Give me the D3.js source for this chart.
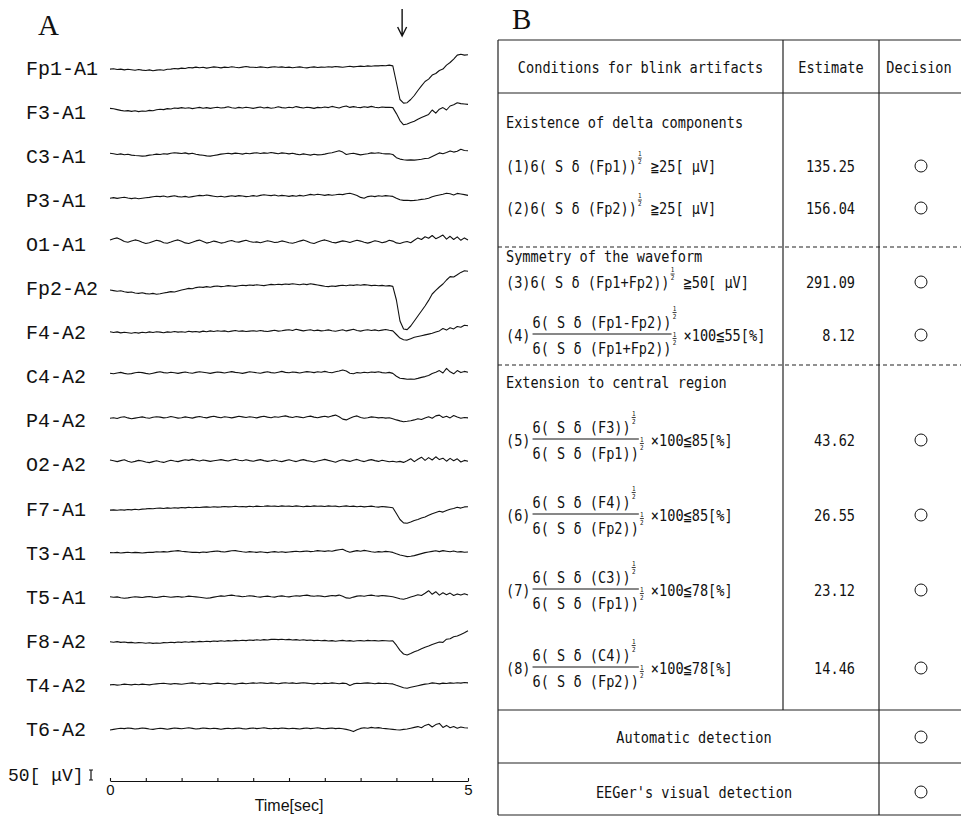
<!DOCTYPE html>
<html>
<head>
<meta charset="UTF-8">
<title>Blink artifact detection</title>
<script src="https://d3js.org/d3.v7.min.js"></script>
<style>
  body { margin: 0; background: #fff; }
  svg text { fill: #111; }
</style>
</head>
<body>
<svg id="svg" width="961" height="817"></svg>
<script>
// ---- EEG data: one sample every 0.05 s, amplitude in uV (positive drawn downward)
var channels = ["Fp1-A1", "F3-A1", "C3-A1", "P3-A1", "O1-A1", "Fp2-A2", "F4-A2", "C4-A2",
                "P4-A2", "O2-A2", "F7-A1", "T3-A1", "T5-A1", "F8-A2", "T4-A2", "T6-A2"];
var timeStep = 0.05;
var blinkTime = 4.08;
var timeTicks = [0, 0.5, 1, 1.5, 2, 2.5, 3, 3.5, 4, 4.5, 5];
var tickLabels = ["0", "", "", "", "", "", "", "", "", "", "5"];

var fp1 = [8,6,10,8,12,9,11,14,10,13, 15,12,16,13,11,14,9,8,5,7, 3,5,0,2,-2,1,-1,3,0,-3,
  -1,2,-2,0,-4,-1,1,-2,-5,-2, -1,0,-3,-1,1,-2,-4,-1,-3,0, -2,1,-1,-3,0,2,-1,-3,0,-2,
  -1,-4,-2,-5,-3,-1,-4,-6,-3,-5, -7,-5,-8,-6,-9,-8,-10,-9,-12,-8,
  75,160,178,176,160,140,115,92,70,58, 38,30,15,8,-12,-25,-42,-62,-66,-62,-64];
var f3 = [-16,-14,-10,-6,-3,-5,-1,-4,0,-3, -2,-6,-4,-9,-12,-10,-15,-13,-18,-16,
  -20,-17,-19,-15,-18,-21,-17,-20,-16,-19, -22,-18,-20,-24,-19,-17,-21,-18,-22,-19,
  -16,-20,-23,-18,-21,-17,-19,-24,-20,-18, -22,-19,-25,-21,-18,-22,-20,-16,-21,-19,
  -23,-20,-26,-22,-18,-24,-28,-21,-25,-22, -20,-24,-21,-26,-22,-19,-23,-21,-22,-20,
  10,45,66,62,55,48,38,30,22,14, -8,8,-12,-20,-8,-28,-34,-44,-40,-38,-36];
var c3 = [-12,-10,-6,-9,-5,-7,-3,-1,0,2, 1,-3,-5,-8,-6,-10,-8,-12,-15,-13,
  -11,-14,-9,-12,-7,-4,-2,1,2,-1, -4,-8,-10,-12,-9,-13,-11,-8,-12,-10,
  -13,-15,-11,-14,-12,-16,-13,-10,-14,-12, -9,-12,-8,-5,-9,-6,-3,-7,-4,-5,
  -8,-12,-15,-20,-25,-18,-6,-10,-12,-8, -4,-7,-10,-14,-12,-15,-11,-9,-10,-6,
  10,17,20,22,21,22,20,18,14,13, 4,-5,-14,-10,-16,-24,-18,-22,-32,-26,-25];
var p3 = [-8,-11,-7,-10,-13,-9,-6,-9,-5,-8, -10,-12,-15,-18,-16,-19,-14,-17,-20,-16,
  -14,-17,-13,-16,-19,-22,-20,-24,-21,-18, -15,-18,-14,-17,-20,-17,-21,-19,-16,-18,
  -21,-18,-22,-25,-23,-21,-24,-19,-22,-20, -17,-21,-18,-22,-19,-23,-27,-24,-28,-25,
  -22,-26,-23,-25,-28,-26,-30,-33,-28,-22, -12,-8,-16,-19,-16,-20,-18,-21,-19,-17,
  -8,0,3,2,4,3,1,-2,-4,-8, -15,-20,-24,-28,-33,-30,-24,-32,-29,-26,-22];
var o1 = [-20,-26,-30,-22,-12,-8,-14,-20,-16,-8, -2,-6,-12,-18,-14,-6,-3,-9,-16,-20,
  -13,-5,-2,-8,-15,-19,-12,-4,-8,-14, -10,-4,-7,-13,-17,-11,-9,-14,-18,-12,
  -8,-10,-6,-11,-16,-12,-7,-9,-15,-11, -6,-3,-8,-14,-19,-13,-6,-2,-9,-16,
  -20,-14,-8,-5,-10,-15,-12,-7,-13,-18, -14,-8,-4,-9,-16,-12,-6,-10,-18,-14,
  -5,-2,-8,-12,-6,-18,-30,-22,-36,-28, -42,-26,-34,-44,-24,-38,-22,-35,-18,-30,-20];
var fp2 = [10,13,16,14,19,22,20,25,27,24, 28,30,27,31,29,25,22,18,20,15,
  10,6,2,4,-2,-5,-3,-7,-4,-8, -10,-7,-9,-12,-10,-8,-11,-14,-12,-15,
  -13,-16,-14,-12,-15,-18,-16,-19,-17,-20, -18,-21,-19,-16,-20,-17,-21,-18,-15,-12,
  -9,-7,-10,-8,-12,-14,-11,-15,-13,-16, -14,-17,-15,-12,-14,-11,-13,-10,-12,-8,
  60,165,205,208,190,165,140,115,90,62, 30,12,-5,-20,-40,-57,-55,-66,-78,-86,-84];
var f4 = [-2,2,-1,4,1,3,6,2,5,1, 3,-1,2,-2,0,3,-1,1,-3,0, -2,1,-4,-1,-3,0,-5,-2,-6,-3,
  -7,-4,-6,-2,-5,-8,-4,-6,-3,-5, -7,-4,-8,-5,-3,-6,-9,-5,-7,-10,
  -12,-8,-14,-10,-6,-9,-12,-7,-10,-6, -8,-11,-7,-4,-8,-12,-6,-10,-14,-8,
  -5,-9,-12,-8,-11,-7,-10,-13,-9,-6, 12,30,38,40,33,26,22,18,14,10,
  6,0,-6,-18,-10,-22,-16,-28,-24,-34,-32];
var c4 = [-15,-12,-16,-19,-14,-11,-13,-17,-20,-18, -14,-11,-15,-19,-22,-18,-16,-20,-17,-14,
  -18,-21,-17,-15,-19,-22,-20,-17,-14,-18, -21,-19,-16,-20,-23,-19,-17,-14,-18,-22,
  -20,-17,-15,-19,-22,-18,-16,-20,-24,-19, -17,-21,-19,-16,-20,-23,-21,-18,-22,-20,
  -24,-20,-17,-22,-26,-31,-26,-15,-12,-18, -16,-20,-17,-21,-19,-22,-18,-16,-19,-14,
  0,10,12,15,14,15,11,6,2,-4, -14,-20,-28,-16,-39,-22,-12,-28,-18,-24,-20];
var p4 = [-10,-13,-9,-15,-18,-12,-8,-11,-14,-17, -13,-10,-15,-18,-16,-12,-14,-19,-15,-11,
  -13,-17,-14,-11,-16,-19,-15,-12,-17,-20, -16,-13,-18,-15,-12,-16,-20,-17,-14,-18,
  -15,-12,-17,-20,-16,-13,-18,-15,-19,-22, -17,-14,-19,-16,-13,-18,-21,-16,-13,-17,
  -20,-16,-22,-26,-18,-6,-2,-10,-18,-22, -14,-10,-13,-17,-15,-12,-14,-11,-13,-8,
  -2,3,7,5,2,-2,-8,-4,-12,-18, -10,-22,-26,-14,-20,-12,-24,-16,-10,-14,-12];
var o2 = [-22,-18,-14,-19,-23,-16,-11,-15,-20,-17, -12,-9,-14,-18,-13,-10,-16,-21,-17,-14,
  -19,-23,-20,-25,-21,-17,-22,-19,-15,-18, -21,-24,-20,-17,-22,-26,-21,-18,-23,-19,
  -16,-20,-24,-19,-15,-18,-22,-17,-14,-19, -23,-18,-14,-20,-24,-19,-16,-12,-17,-21,
  -25,-20,-16,-11,-18,-23,-19,-15,-21,-25, -18,-14,-20,-24,-19,-15,-21,-17,-13,-16,
  -12,-15,-10,-18,-28,-14,-26,-36,-20,-34, -22,-38,-24,-31,-16,-30,-18,-28,-12,-20,-16];
var f7 = [8,7,9,6,8,5,7,4,6,3, 2,0,1,-1,-2,0,-3,-1,-4,-2, -5,-3,-6,-4,-6,-5,-7,-8,-6,-9,
  -7,-8,-10,-8,-9,-11,-9,-10,-8,-11, -9,-12,-10,-11,-13,-11,-12,-10,-13,-11,
  -12,-10,-13,-11,-9,-12,-10,-13,-11,-12, -10,-13,-11,-12,-9,-11,-13,-10,-12,-9,
  -11,-8,-10,-12,-9,-7,-10,-8,-6,-4, 25,55,72,74,68,60,55,48,42,34,
  26,20,14,18,10,4,0,-6,-2,-8,-9];
var t3 = [0,1,-1,2,0,-2,1,-1,0,2, 0,-2,-1,-4,-3,-5,-3,-6,-8,-10, -7,-5,-3,-1,-2,0,-3,-1,-4,-6,
  -8,-5,-3,-6,-9,-10,-7,-4,-2,-5, -3,-1,-4,-2,0,-3,-5,-2,-4,-1,
  -3,-5,-7,-4,-6,-8,-5,-7,-10,-8, -6,-9,-7,-11,-14,-17,-8,-2,-6,-10,
  -7,-11,-8,-4,-2,-5,-3,-6,-4,-1, 6,12,16,20,18,15,10,5,0,-3,
  -6,-9,-5,-10,-7,-4,-8,-3,-5,-2,-3];
var t5 = [0,3,1,5,8,6,3,0,2,4, 1,-1,2,4,1,-2,0,3,1,-1, 2,0,-3,-1,1,3,5,8,6,2,
  -1,-4,-2,-6,-8,-5,-3,0,-2,-5, -3,0,2,-1,-3,0,2,-2,-4,-1,
  1,-2,-5,-3,-6,-8,-4,-2,-5,-3, 0,-3,-6,-4,-8,-2,6,8,2,-3,
  -5,-2,-6,-8,-5,-3,-6,-4,-2,0, 5,10,13,8,2,-4,-10,-6,-17,-30,
  -12,-25,-8,-20,-10,-18,-6,-14,-8,-15,-8];
var f8 = [5,7,4,8,6,9,8,11,9,10, 12,10,13,11,12,9,10,7,9,6, 8,5,7,4,6,3,5,2,4,1,
  3,0,2,-1,1,-2,0,-3,-1,-4, -2,-5,-3,-6,-4,-7,-8,-6,-8,-5,
  -7,-4,-6,-3,-5,-2,-4,-1,-3,0, -2,1,-1,2,0,-2,1,-1,2,0,
  -1,1,-2,0,-1,1,-1,0,1,0, 22,48,66,71,64,55,48,40,32,26,
  18,12,6,8,-8,-10,-20,-24,-32,-40,-50];
var t4 = [0,-2,1,-1,-4,-2,0,-3,-1,-4, -2,0,-3,-5,-7,-8,-6,-4,-7,-5,
  -3,-6,-8,-10,-7,-5,-8,-6,-4,-7, -9,-7,-5,-8,-6,-4,-7,-9,-6,-8,
  -10,-8,-11,-9,-7,-10,-8,-6,-9,-11, -8,-10,-7,-9,-11,-9,-7,-5,-8,-6,
  -9,-7,-10,-8,-6,-9,-7,3,-5,-8, -7,-9,-10,-8,-6,-9,-7,-8,-6,-5,
  2,8,14,17,12,8,4,0,-4,-6, -10,-8,-5,-9,-7,-10,-8,-11,-9,-12,-10];
var t6 = [5,2,-1,-4,-2,-5,-3,0,-2,-5, -3,0,2,-1,-4,-2,1,-2,-5,-3,
  -1,-4,-6,-3,0,-2,-5,-3,-1,-4, -2,1,-2,-4,-1,-3,-5,-2,0,-3,
  -5,-2,-4,-6,-3,-1,-4,-2,-5,-3, -1,-4,-2,0,-3,-5,-2,-4,-6,-3,
  -1,-3,-5,-2,-4,-1,2,6,13,4, -3,-6,-4,-8,-5,-7,-4,-2,0,2,
  4,5,2,0,-4,-8,-12,-6,-18,-24, -10,-22,-28,-8,-18,-6,-12,-4,-10,-6,-5];
var waves = [fp1, f3, c3, p3, o1, fp2, f4, c4, p4, o2, f7, t3, t5, f8, t4, t6];

// ---- table data
var headers = ["Conditions for blink artifacts", "Estimate", "Decision"];
var groupTitles = ["Existence of delta components", "Symmetry of the waveform", "Extension to central region"];
var condNo = ["(1)", "(2)", "(3)", "(4)", "(5)", "(6)", "(7)", "(8)"];
var condNum = ["6( S \u03b4 (Fp1))", "6( S \u03b4 (Fp2))", "6( S \u03b4 (Fp1+Fp2))", "6( S \u03b4 (Fp1-Fp2))",
               "6( S \u03b4 (F3))", "6( S \u03b4 (F4))", "6( S \u03b4 (C3))", "6( S \u03b4 (C4))"];
var condDen = [null, null, null, "6( S \u03b4 (Fp1+Fp2))",
               "6( S \u03b4 (Fp1))", "6( S \u03b4 (Fp2))", "6( S \u03b4 (Fp1))", "6( S \u03b4 (Fp2))"];
var condTail = ["\u226725[ \u03bcV]", "\u226725[ \u03bcV]", "\u226750[ \u03bcV]", "\u00d7100\u226655[%]",
                "\u00d7100\u226685[%]", "\u00d7100\u226685[%]", "\u00d7100\u226678[%]", "\u00d7100\u226678[%]"];
var estimates = ["135.25", "156.04", "291.09", "8.12", "43.62", "26.55", "23.12", "14.46"];
var decisions = [true, true, true, true, true, true, true, true];
var detections = ["Automatic detection", "EEGer's visual detection"];
var detectionResults = [true, true];

var svg = d3.select("svg");

// ================= panel A =================
var x = d3.scaleLinear().domain([0, 5]).range([110, 468]);
var yCh = d3.scalePoint().domain(channels).range([67.5, 729]);
var amp = d3.scaleLinear().domain([0, 50]).range([0, 10]);   // 50 uV -> 10 px

svg.append("text").attr("x", 38).attr("y", 35)
    .style("font-family", "'Liberation Serif', serif").style("font-size", "29px").text("A");

// blink marker
var bx = x(blinkTime);
svg.append("path")
    .attr("d", "M" + bx + ",9V36M" + (bx - 4.5) + ",27L" + bx + ",36L" + (bx + 4.5) + ",27")
    .attr("fill", "none").attr("stroke", "#111").attr("stroke-width", 1.4);

var traces = svg.append("g");
channels.forEach(function (ch, k) {
    var base = yCh(ch);
    traces.append("text").attr("x", 26).attr("y", base).attr("dy", "0.35em")
        .style("font-family", "'Liberation Mono', monospace").style("font-size", "20px")
        .text(ch);
    var line = d3.line()
        .x(function (v, i) { return x(i * timeStep); })
        .y(function (v) { return base + amp(v); });
    traces.append("path").datum(waves[k]).attr("d", line)
        .attr("fill", "none").attr("stroke", "#111").attr("stroke-width", 1.1)
        .attr("stroke-linejoin", "round");
});

// amplitude scale bar
var barY = 775;
svg.append("text").attr("x", 8).attr("y", barY).attr("dy", "0.35em")
    .style("font-family", "'Liberation Mono', monospace").style("font-size", "18px")
    .text("50[ \u03bcV]");
svg.append("path")
    .attr("d", "M91," + (barY - amp(25)) + "V" + (barY + amp(25)) +
               "M89," + (barY - amp(25)) + "H93M89," + (barY + amp(25)) + "H93")
    .attr("fill", "none").attr("stroke", "#111").attr("stroke-width", 1.2);

// time axis
var axis = svg.append("g").attr("transform", "translate(0,781)")
    .call(d3.axisBottom(x).tickValues(timeTicks).tickSize(-3).tickSizeOuter(0).tickPadding(3)
        .tickFormat(function (d, i) { return tickLabels[i]; }));
axis.selectAll("path,line").attr("stroke", "#111").attr("stroke-width", 1.1);
axis.selectAll("text").style("font-family", "'Liberation Sans', Arial, sans-serif")
    .style("font-size", "15px").attr("fill", "#111");
svg.append("text").attr("x", x(2.5)).attr("y", 811).attr("text-anchor", "middle")
    .style("font-family", "'Liberation Sans', Arial, sans-serif").style("font-size", "16px")
    .text("Time[sec]");

// ================= panel B =================
svg.append("text").attr("x", 512).attr("y", 29)
    .style("font-family", "'Liberation Serif', serif").style("font-size", "29px").text("B");

var tbl = svg.append("g");
var SX = 0.85, FS = 16;
function tt(g, tx, ty, s, size, anchor) {
    return g.append("text")
        .attr("transform", "translate(" + tx + "," + ty + ") scale(" + SX + ",1)")
        .attr("dy", "0.35em")
        .attr("text-anchor", anchor || "start")
        .style("font-family", "'DejaVu Sans Mono', monospace")
        .style("font-size", (size || FS) + "px")
        .text(s);
}
function tw(t) { return t.node().getComputedTextLength() * SX; }
function half(g, hx, hy) {
    tt(g, hx + 3, hy - 4.5, "1", 7, "middle");
    g.append("line").attr("x1", hx + 1).attr("x2", hx + 5).attr("y1", hy - 0.5).attr("y2", hy - 0.5)
        .attr("stroke", "#111").attr("stroke-width", 0.8);
    tt(g, hx + 3, hy + 3.5, "2", 7, "middle");
}

var L = 498, C1 = 783, C2 = 879, R = 961, T = 40, H = 93, B = 815;
var rowY = [166, 208, 282, 335, 440, 515, 590, 668];
var groupY = [122, 256, 382];
var detY = [737, 792];
var textX = 506, estX = 855, decX = 921;

function hline(yy, dashed) {
    tbl.append("line").attr("x1", L).attr("x2", R).attr("y1", yy).attr("y2", yy)
        .attr("stroke", "#222").attr("stroke-width", 1.2)
        .attr("stroke-dasharray", dashed ? "4,3" : null);
}
function vline(xx, y1, y2) {
    tbl.append("line").attr("x1", xx).attr("x2", xx).attr("y1", y1).attr("y2", y2)
        .attr("stroke", "#222").attr("stroke-width", 1.2);
}
hline(T); hline(H); hline(247, true); hline(365, true); hline(710); hline(763); hline(B);
vline(L, T, B); vline(C1, T, 710); vline(C2, T, B);

tt(tbl, (L + C1) / 2, 67, headers[0], FS, "middle");
tt(tbl, (C1 + C2) / 2, 67, headers[1], FS, "middle");
tt(tbl, C2 + 40, 67, headers[2], FS, "middle");

groupTitles.forEach(function (s, i) { tt(tbl, textX, groupY[i], s); });

condNo.forEach(function (no, i) {
    var yy = rowY[i];
    var t0 = tt(tbl, textX, yy, no);
    var x0 = textX + tw(t0);
    if (condDen[i] === null) {
        var t1 = tt(tbl, x0, yy, condNum[i]);
        var x1 = x0 + tw(t1);
        half(tbl, x1, yy - 7.5);
        tt(tbl, x1 + 14, yy, condTail[i]);
    } else {
        var n = tt(tbl, x0 + 2, yy - 13, condNum[i]);
        var d = tt(tbl, x0 + 2, yy + 13, condDen[i]);
        var nw = tw(n), dw = tw(d), w = Math.max(nw, dw);
        tbl.append("line").attr("x1", x0 + 2).attr("x2", x0 + 2 + w)
            .attr("y1", yy - 1).attr("y2", yy - 1).attr("stroke", "#111").attr("stroke-width", 1);
        half(tbl, x0 + 2 + nw, yy - 22);
        half(tbl, x0 + 2 + dw, yy + 4);
        tt(tbl, x0 + w + 14, yy, condTail[i]);
    }
    tt(tbl, estX, yy, estimates[i], FS, "end");
    if (decisions[i]) {
        tbl.append("circle").attr("cx", decX).attr("cy", yy).attr("r", 6)
            .attr("fill", "none").attr("stroke", "#111").attr("stroke-width", 1);
    }
});

detections.forEach(function (s, i) {
    tt(tbl, 694, detY[i], s, FS, "middle");
    if (detectionResults[i]) {
        tbl.append("circle").attr("cx", decX).attr("cy", detY[i]).attr("r", 6)
            .attr("fill", "none").attr("stroke", "#111").attr("stroke-width", 1);
    }
});
</script>
</body>
</html>
